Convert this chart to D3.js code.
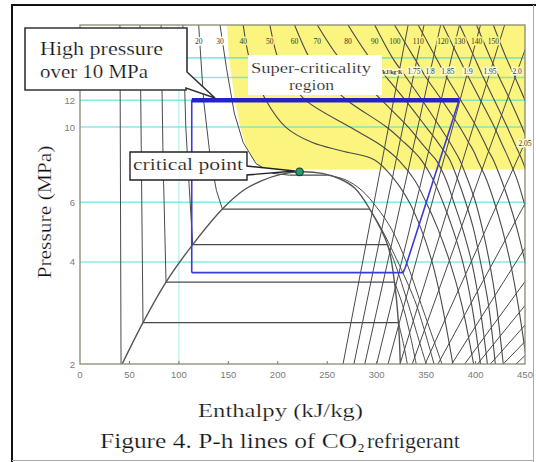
<!DOCTYPE html>
<html><head><meta charset="utf-8">
<script src="https://cdn.jsdelivr.net/npm/d3@7"></script>
<style>
body{margin:0;background:#fff;}
svg{display:block;}
.thin{stroke:#fff;stroke-width:0.22px;}
</style></head><body>
<svg id="c" width="536" height="462"></svg>
<script>
// ---------------- data (enthalpy kJ/kg, pressure MPa) ----------------
const hTicks = [0,50,100,150,200,250,300,350,400,450];
const pTicks = [2,4,6,10,12];
const pGrid = [4,6,10,12,14,16];
const hGrid = [100];

const satLiquid = [[41.5,1.97],[63.7,2.65],[87,3.49],[114,4.5],[144,5.73],[165,6.5],[184,6.95],[203,7.25],[222,7.38]];
const satVapor  = [[222,7.38],[245,7.3],[262,7.05],[278,6.6],[293,5.73],[311,4.5],[318,3.49],[322,2.65],[324,1.97]];
const criticalPoint = [222,7.38];

const yellowRegion = [[148.7,20],[450,20],[450,7.5],[197,7.5],[184,7.6],[174,8.05],[167.8,8.8],[161.8,10.1],[156.7,12],[150.7,15.9],[148.7,20]];

// sub-critical isotherms: liquid branch (top -> saturation), vapour branch (saturation -> bottom)
const subT = [-20,-10,0,10,20,30];
const subLiquid = [
  [[40.4,20],[41.5,1.97]],
  [[60.7,20],[63.7,2.65]],
  [[82,20],[84,8],[87,3.49]],
  [[104,20],[107,10],[110,7],[114,4.5]],
  [[120,20],[125,12],[132,8],[138,6.5],[144,5.73]],
  [[141.6,20],[148,15],[156,11],[165,9],[178,7.8],[195,7.3],[212,7.21]]
];
const subVapor = [
  [[324,1.97]],
  [[322,2.65],[327,2.3],[331,2.0]],
  [[318,3.49],[326,3.0],[333,2.5],[340,2.0]],
  [[311,4.5],[318,4.0],[332,3.0],[340,2.5],[350,2.0]],
  [[293,5.73],[305,5.0],[318,4.2],[325,3.8],[340,3.0],[358,2.0]],
  [[250,7.21],[268,7.0],[285,6.5],[300,5.8],[315,5.0],[330,4.0],[345,3.0],[366,2.0]]
];

// super-critical isotherms, enthalpy at each pressure of scP
const scT = [40,50,60,70,80,90,100,110,120,130,140,150];
const scP = [20,16,14,12,10,9,8.5,8,7,6,5,4,3,2];
const scH = [
  [165,171,178,188,208,235,265,298,318,333,345,356,366,377],
  [192,200,210,228,273,300,312,322,338,350,362,374,386,398],
  [217,232,246,270,310,328,337,345,357,367,377,387,396,405],
  [240,262,282,305,332,345,352,360,370,378,387,396,404,412],
  [271,293,310,329,350,362,368,374,382,390,398,405,413,420],
  [298,316,330,346,364,374,379,384,392,400,407,414,421,428],
  [318,338,350,366,384,393,398,402,411,419,427,435,443,452],
  [342,360,371,385,401,409,413,418,426,434,442,450,458,466],
  [367,383,393,405,419,426,430,434,442,449,456,463,471,479],
  [384,399,408,419,432,439,443,447,454,461,468,475,482,490],
  [401,415,424,435,447,453,457,461,468,475,481,488,495,502],
  [418,431,440,450,462,468,472,476,482,489,495,501,508,515]
];
const tLabels = ["20","30","40","50","60","70","80","90","100","110","120","130","140","150"];
const tLabelH = [120,141.6,165,192,217,240,271,298,318.5,342,367,384,401,418];

// isentropes: enthalpy at P = 2 MPa and at P = 20 MPa
const sVals   = [1.7,1.75,1.8,1.85,1.9,1.95,2.0,2.05,2.1,2.15,2.2,2.25,2.3,2.35,2.4];
const sBottom = [266,277,288,300,311.5,323.6,336,349,362,376,389,402,415,428,441];
const sTop    = [331.8,347.9,364.7,383.7,405,429.4,459,503.6,548,592,640,680,720,760,800];
const sLabels = ["1.7kJ/kg·K","1.75","1.8","1.85","1.9","1.95","2.0"];
const sLabelH = [312.5,337.8,354,372,392.4,414.6,442];
const sLabelP = 14.6;
const sLastLabel = ["2.05", 450, 9];

// refrigeration cycle
const cycle = [[113,3.72],[113,12]];
const cycleLow = [[113,3.72],[326.6,3.72],[329,3.85],[383.3,12]];
const gasCooler = [[113,12],[383.3,12]];

// ---------------- drawing ----------------
const svg = d3.select("#c");
const x = d3.scaleLinear().domain([0,450]).range([80,525]);
const y = d3.scaleLog().domain([2,20]).range([364,25]);
const line = d3.line().x(d=>x(d[0])).y(d=>y(d[1]));
const smooth = d3.line().x(d=>x(d[0])).y(d=>y(d[1])).curve(d3.curveCatmullRom.alpha(0.5));
const serif = "Liberation Serif, Times New Roman, serif";
const sans = "Liberation Sans, Arial, sans-serif";

// outer frame
svg.append("line").attr("x1",12).attr("x2",12).attr("y1",4).attr("y2",462).attr("stroke","#111").attr("stroke-width",2);
svg.append("line").attr("x1",11).attr("x2",536).attr("y1",5).attr("y2",5).attr("stroke","#111").attr("stroke-width",2);
svg.append("line").attr("x1",533.5).attr("x2",533.5).attr("y1",5).attr("y2",462).attr("stroke","#aaa").attr("stroke-width",1);
svg.append("line").attr("x1",12).attr("x2",534).attr("y1",460.5).attr("y2",460.5).attr("stroke","#aaa").attr("stroke-width",1);

svg.append("defs").append("clipPath").attr("id","plot")
  .append("rect").attr("x",80).attr("y",25).attr("width",445).attr("height",339);

const g = svg.append("g").attr("clip-path","url(#plot)");

// yellow super-critical region
g.append("path").attr("d",line(yellowRegion)+"Z").attr("fill","#fbf47e").attr("stroke","none");

// grid
g.selectAll(".hg").data(pGrid).join("line")
  .attr("x1",80).attr("x2",525).attr("y1",d=>y(d)).attr("y2",d=>y(d))
  .attr("stroke","#3fd8d0").attr("stroke-opacity",0.6).attr("stroke-width",1.6);
g.selectAll(".vg").data(hGrid).join("line")
  .attr("x1",d=>x(d)).attr("x2",d=>x(d)).attr("y1",25).attr("y2",364)
  .attr("stroke","#3fd8d0").attr("stroke-opacity",0.4).attr("stroke-width",1.2);

const lc = "#4a4a4a";
// isentropes
g.selectAll(".ise").data(sVals).join("path")
  .attr("d",(d,i)=>line([[sBottom[i],2],[sTop[i],20]]))
  .attr("fill","none").attr("stroke",lc).attr("stroke-width",1);

// sub-critical isotherms
subT.forEach((t,i)=>{
  g.append("path").attr("d",line(subLiquid[i])).attr("fill","none").attr("stroke",lc).attr("stroke-width",1);
  const a = subLiquid[i][subLiquid[i].length-1], b = subVapor[i][0];
  g.append("path").attr("d",line([a,[b[0],a[1]]])).attr("fill","none").attr("stroke",lc).attr("stroke-width",1.2);
  if (subVapor[i].length>1) g.append("path").attr("d",smooth(subVapor[i])).attr("fill","none").attr("stroke",lc).attr("stroke-width",1);
});
// super-critical isotherms
scT.forEach((t,i)=>{
  g.append("path").attr("d",smooth(scP.map((p,j)=>[scH[i][j],p]))).attr("fill","none").attr("stroke",lc).attr("stroke-width",1.1);
});

// saturation dome
g.append("path").attr("d",smooth(satLiquid.concat(satVapor.slice(1)))).attr("fill","none").attr("stroke","#555").attr("stroke-width",1.4);

// plot frame
svg.append("rect").attr("x",80).attr("y",25).attr("width",445).attr("height",339)
  .attr("fill","none").attr("stroke","#8a8a70").attr("stroke-width",1.3);

// tick marks
svg.selectAll(".xt").data(hTicks.slice(1,-1)).join("line")
  .attr("x1",d=>x(d)).attr("x2",d=>x(d)).attr("y1",364).attr("y2",361).attr("stroke","#777");

// tick labels
svg.selectAll(".xl").data(hTicks).join("text")
  .attr("x",d=>x(d)).attr("y",378).attr("text-anchor","middle")
  .attr("font-family",sans).attr("font-size",9.5).attr("fill","#7a7a7a").text(d=>d);
svg.selectAll(".yl").data(pTicks).join("text")
  .attr("x",75).attr("y",d=>y(d)+3.5).attr("text-anchor","end")
  .attr("font-family",sans).attr("font-size",9.5).attr("fill","#7a7a7a").text(d=>d);

// isotherm labels at top
svg.selectAll(".tl").data(tLabels).join("text")
  .attr("x",(d,i)=>x(tLabelH[i])).attr("y",44).attr("text-anchor","middle")
  .attr("font-family",serif).attr("font-size",7.5).attr("fill","#333")
  .attr("stroke",(d,i)=>tLabelH[i]>149?"#fbf47e":"#fff").attr("stroke-width",3).attr("paint-order","stroke")
  .text(d=>d);

// isentrope labels
svg.selectAll(".sl").data(sLabels).join("text")
  .attr("x",(d,i)=>x(sLabelH[i])).attr("y",y(sLabelP)+3).attr("text-anchor","middle")
  .attr("font-family",serif).attr("font-size",(d,i)=>i===0?6.5:7.5).attr("font-weight",(d,i)=>i===0?"bold":"normal")
  .attr("textLength",(d,i)=>i===0?27:null).attr("lengthAdjust","spacingAndGlyphs")
  .attr("fill","#333").attr("stroke","#fdfbd8").attr("stroke-width",3).attr("paint-order","stroke")
  .text(d=>d);
svg.append("text").attr("x",x(sLastLabel[1])).attr("y",y(sLastLabel[2])+3).attr("text-anchor","middle")
  .attr("font-family",serif).attr("font-size",7.5).attr("fill","#333")
  .attr("stroke","#fdfbd8").attr("stroke-width",3).attr("paint-order","stroke").text(sLastLabel[0]);

// cycle
svg.append("path").attr("d",line(cycleLow)).attr("fill","none").attr("stroke","#3b3bd6").attr("stroke-width",1.6);
svg.append("path").attr("d",line(cycle)).attr("fill","none").attr("stroke","#3b3bd6").attr("stroke-width",1.6);
svg.append("path").attr("d",line(gasCooler)).attr("fill","none").attr("stroke","#2323c8").attr("stroke-width",4.5);

// critical point
svg.append("circle").attr("cx",x(criticalPoint[0])).attr("cy",y(criticalPoint[1])).attr("r",3.8)
  .attr("fill","#1f9e6e").attr("stroke","#1a4030").attr("stroke-width",1.2);

// super-criticality label
svg.append("rect").attr("x",248).attr("y",55).attr("width",134).attr("height",40).attr("fill","#fff");
svg.append("text").attr("class","thin").attr("x",251).attr("y",73).attr("font-family",serif).attr("font-size",14.5)
  .attr("textLength",120).attr("lengthAdjust","spacingAndGlyphs").attr("fill","#111").text("Super-criticality");
svg.append("text").attr("class","thin").attr("x",289).attr("y",89.5).attr("font-family",serif).attr("font-size",14.5)
  .attr("textLength",45).attr("lengthAdjust","spacingAndGlyphs").attr("fill","#111").text("region");

// callout: high pressure
svg.append("path").attr("d","M25,28 H187 V72 L215,98 L186,88 V90 H25 Z")
  .attr("fill","#fff").attr("stroke","#333").attr("stroke-width",1.6).attr("stroke-linejoin","miter");
svg.append("text").attr("class","thin").attr("x",40).attr("y",55).attr("font-family",serif).attr("font-size",19)
  .attr("textLength",123).attr("lengthAdjust","spacingAndGlyphs").attr("fill","#111").text("High pressure");
svg.append("text").attr("class","thin").attr("x",40).attr("y",78).attr("font-family",serif).attr("font-size",19)
  .attr("textLength",108).attr("lengthAdjust","spacingAndGlyphs").attr("fill","#111").text("over 10 MPa");

// callout: critical point
svg.append("path").attr("d","M130,152 H247 V166 L295,171 L247,175 V180 H130 Z")
  .attr("fill","#fff").attr("stroke","#222").attr("stroke-width",1.4);
svg.append("text").attr("class","thin").attr("x",133).attr("y",170).attr("font-family",serif).attr("font-size",17.5)
  .attr("textLength",110).attr("lengthAdjust","spacingAndGlyphs").attr("fill","#111").text("critical point");

// axis titles
svg.append("text").attr("class","thin").attr("transform","translate(51,212) rotate(-90)").attr("text-anchor","middle")
  .attr("font-family",serif).attr("font-size",18).attr("textLength",133).attr("lengthAdjust","spacingAndGlyphs")
  .attr("fill","#111").text("Pressure (MPa)");
svg.append("text").attr("class","thin").attr("x",198).attr("y",417).attr("font-family",serif).attr("font-size",18)
  .attr("textLength",165).attr("lengthAdjust","spacingAndGlyphs").attr("fill","#111").text("Enthalpy (kJ/kg)");
svg.append("text").attr("class","thin").attr("x",100).attr("y",448).attr("font-family",serif).attr("font-size",20.5)
  .attr("textLength",257).attr("lengthAdjust","spacingAndGlyphs").attr("fill","#111").text("Figure 4. P-h lines of CO");
svg.append("text").attr("x",358).attr("y",452).attr("font-family",serif).attr("font-size",12.5)
  .attr("fill","#111").text("2");
svg.append("text").attr("class","thin").attr("x",367).attr("y",448).attr("font-family",serif).attr("font-size",20.5)
  .attr("textLength",93).attr("lengthAdjust","spacingAndGlyphs").attr("fill","#111").text("refrigerant");
</script>
</body></html>
